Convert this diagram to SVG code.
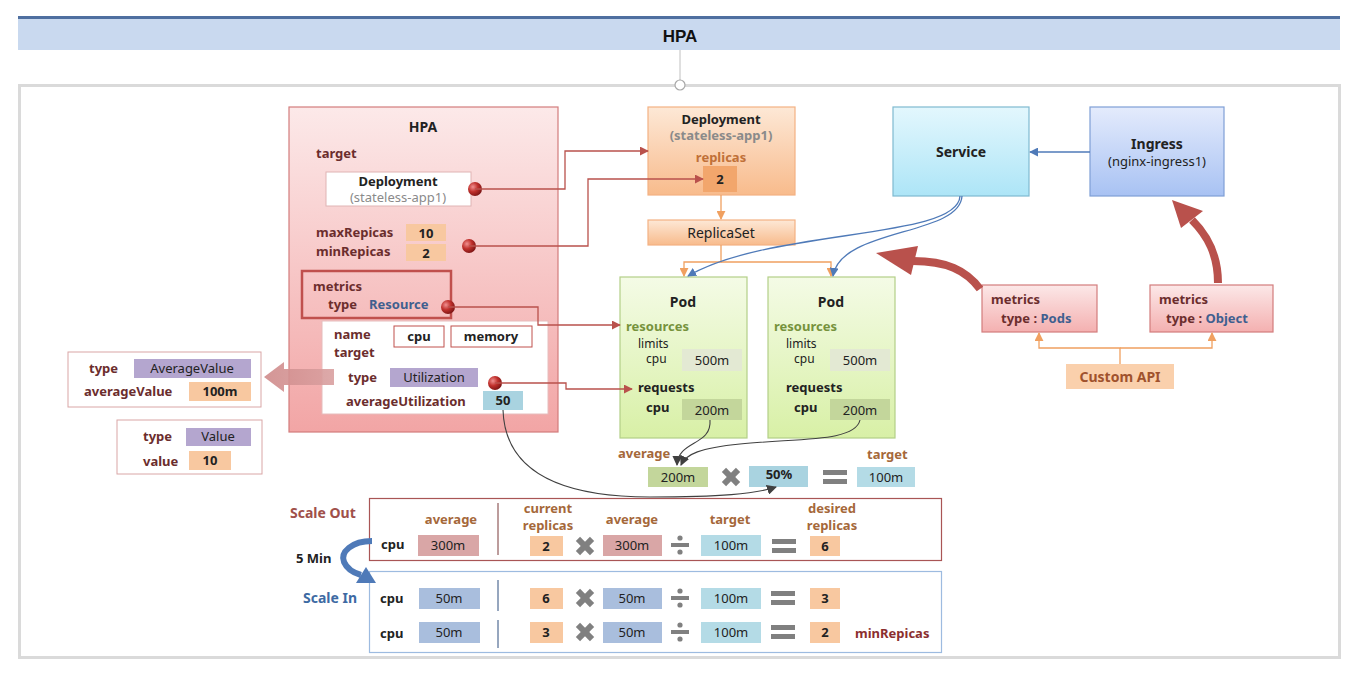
<svg xmlns="http://www.w3.org/2000/svg" width="1361" height="675" viewBox="0 0 1361 675">
<style>
text{font-family:"Noto Sans","Open Sans",sans-serif;font-size:13px;fill:#222}
.b{font-weight:bold}
.c{text-anchor:middle}
.sm{font-size:12px}
.lbl{fill:#6b2d2d;font-weight:bold}
.br{fill:#a5683a;font-weight:bold}
.blu{fill:#3f5f8f;font-weight:bold}
.gry{fill:#8a8a8a}
.cOr{fill:#f8c8a0}
.cPk{fill:#d9a6a6}
.cLb{fill:#b4dbe6}
.cSb{fill:#a9bedd}
.cPu{fill:#b4a6cf}
.cGr{fill:#c3d69b}
.red{fill:none;stroke:#b9514c;stroke-width:1.3}
.org{fill:none;stroke:#f0a060;stroke-width:1.3}
.bl{fill:none;stroke:#4f7ab8;stroke-width:1.3}
.gl{fill:none;stroke:#404040;stroke-width:1.1}
.op{fill:#808080}
</style>
<defs>
<linearGradient id="gHpa" x1="0" y1="0" x2="0" y2="1"><stop offset="0" stop-color="#fce9e9"/><stop offset="1" stop-color="#f2a5a5"/></linearGradient>
<linearGradient id="gDep" x1="0" y1="0" x2="0" y2="1"><stop offset="0" stop-color="#fde8d6"/><stop offset="1" stop-color="#f8bb8c"/></linearGradient>
<linearGradient id="gPod" x1="0" y1="0" x2="0" y2="1"><stop offset="0" stop-color="#f4fbe6"/><stop offset="1" stop-color="#d8f0a6"/></linearGradient>
<linearGradient id="gSvc" x1="0" y1="0" x2="0" y2="1"><stop offset="0" stop-color="#e3f7fd"/><stop offset="1" stop-color="#ade5f7"/></linearGradient>
<linearGradient id="gIng" x1="0" y1="0" x2="0" y2="1"><stop offset="0" stop-color="#e4ebfc"/><stop offset="1" stop-color="#a8c2f3"/></linearGradient>
<linearGradient id="gMet" x1="0" y1="0" x2="0" y2="1"><stop offset="0" stop-color="#fce8e8"/><stop offset="1" stop-color="#f4b0b0"/></linearGradient>
<linearGradient id="gArr" x1="0" y1="0" x2="1" y2="0"><stop offset="0" stop-color="#cf8a8a"/><stop offset="1" stop-color="#d9a0a0"/></linearGradient>
<radialGradient id="gBall" cx="0.35" cy="0.35" r="0.7"><stop offset="0" stop-color="#f09090"/><stop offset="0.5" stop-color="#c0302c"/><stop offset="1" stop-color="#7a1414"/></radialGradient>
<marker id="mRed" viewBox="0 0 10 10" refX="9" refY="5" markerWidth="9" markerHeight="9" markerUnits="userSpaceOnUse" orient="auto"><path d="M0,0 L10,5 L0,10 z" fill="#b9514c"/></marker>
<marker id="mOrg" viewBox="0 0 10 10" refX="9" refY="5" markerWidth="9" markerHeight="9" markerUnits="userSpaceOnUse" orient="auto"><path d="M0,0 L10,5 L0,10 z" fill="#f0a060"/></marker>
<marker id="mBlu" viewBox="0 0 10 10" refX="9" refY="5" markerWidth="9" markerHeight="9" markerUnits="userSpaceOnUse" orient="auto"><path d="M0,0 L10,5 L0,10 z" fill="#4f7ab8"/></marker>
<marker id="mGry" viewBox="0 0 10 10" refX="9" refY="5" markerWidth="10" markerHeight="10" markerUnits="userSpaceOnUse" orient="auto"><path d="M0,0 L10,5 L0,10 z" fill="#404040"/></marker>
<g id="opX" class="op"><rect x="-10" y="-3" width="20" height="6" transform="rotate(45)"/><rect x="-10" y="-3" width="20" height="6" transform="rotate(-45)"/></g>
<g id="opDiv" class="op"><rect x="-9" y="-2" width="18" height="4"/><circle cx="0" cy="-7" r="2.6"/><circle cx="0" cy="7" r="2.6"/></g>
<g id="opEq" class="op"><rect x="-12" y="-7" width="24" height="5"/><rect x="-12" y="2" width="24" height="5"/></g>
<circle id="ball" r="7" fill="url(#gBall)"/>
</defs>

<g id="header">
<rect x="18" y="17" width="1322" height="33" fill="#c9d9ef"/>
<line x1="18" y1="17.5" x2="1340" y2="17.5" stroke="#4f6fa0" stroke-width="3"/>
<text x="680" y="42" class="c b" style="font-family:'Liberation Sans',sans-serif;font-size:17px;fill:#111">HPA</text>
</g>
<g id="frame">
<line x1="680" y1="50" x2="680" y2="80" stroke="#c0c0c0" stroke-width="1"/>
<rect x="19.5" y="85.5" width="1320" height="572" fill="#fff" stroke="#dadada" stroke-width="3"/>
<circle cx="680" cy="85" r="5" fill="#fff" stroke="#a8a8a8" stroke-width="1.2"/>
</g>

<g id="hpa">
<rect x="289" y="107" width="269" height="325" fill="url(#gHpa)" stroke="#d37c7c" stroke-width="1.2"/>
<text x="423" y="132" class="c b" style="font-size:14px">HPA</text>
<text x="316" y="158" class="lbl">target</text>
<rect x="326" y="172" width="145" height="34" fill="#fff" stroke="#e0b4b4"/>
<text x="398" y="186" class="c b">Deployment</text>
<text x="398" y="202" class="c gry">(stateless-app1)</text>
<text x="316" y="237" class="lbl">maxRepicas</text>
<rect x="406" y="224" width="40" height="17" class="cOr"/>
<text x="426" y="238" class="c b">10</text>
<text x="316" y="256" class="lbl">minRepicas</text>
<rect x="406" y="244" width="40" height="17" class="cOr"/>
<text x="426" y="258" class="c b">2</text>
<rect x="302" y="271" width="149" height="47" fill="none" stroke="#c0504d" stroke-width="2.5"/>
<text x="313" y="291" class="lbl">metrics</text>
<text x="328" y="309" class="lbl">type</text>
<text x="369" y="309" class="blu">Resource</text>
<rect x="322" y="321" width="226" height="93" fill="#fff" stroke="#e6bcbc"/>
<text x="334" y="339" class="lbl">name</text>
<text x="334" y="357" class="lbl">target</text>
<rect x="394" y="326" width="50" height="21" fill="#fff" stroke="#c0504d"/>
<text x="419" y="341" class="c b">cpu</text>
<rect x="451" y="326" width="81" height="21" fill="#fff" stroke="#c0504d"/>
<text x="491" y="341" class="c b">memory</text>
<text x="348" y="382" class="lbl">type</text>
<rect x="390" y="368" width="88" height="19" class="cPu"/>
<text x="434" y="382" class="c">Utilization</text>
<text x="346" y="406" class="lbl">averageUtilization</text>
<rect x="483" y="391" width="40" height="19" fill="#a9d3e0"/>
<text x="503" y="405" class="c b">50</text>
<polygon points="334,369 284,369 284,362 264,377 284,392 284,385 334,385" fill="url(#gArr)" opacity="0.9"/>
<use href="#ball" x="475" y="189"/>
<use href="#ball" x="469" y="246"/>
<use href="#ball" x="448" y="307"/>
<use href="#ball" x="495" y="383"/>
</g>

<g id="typeAverageValue">
<rect x="68" y="352" width="193" height="55" fill="#fff" stroke="#d9a6a6"/>
<text x="89" y="373" class="lbl">type</text>
<rect x="134" y="359" width="117" height="19" class="cPu"/>
<text x="192" y="373" class="c">AverageValue</text>
<text x="84" y="396" class="lbl">averageValue</text>
<rect x="189" y="382" width="62" height="19" class="cOr"/>
<text x="220" y="396" class="c b">100m</text>
</g>
<g id="typeValue">
<rect x="117" y="420" width="145" height="54" fill="#fff" stroke="#d9a6a6"/>
<text x="143" y="441" class="lbl">type</text>
<rect x="186" y="428" width="65" height="18" class="cPu"/>
<text x="218" y="441" class="c">Value</text>
<text x="143" y="466" class="lbl">value</text>
<rect x="189" y="451" width="42" height="19" class="cOr"/>
<text x="210" y="465" class="c b">10</text>
</g>

<g id="deployment">
<rect x="648" y="107" width="147" height="88" fill="url(#gDep)" stroke="#f4b183" stroke-width="1.2"/>
<text x="721" y="124" class="c b">Deployment</text>
<text x="721" y="140" class="c b gry">(stateless-app1)</text>
<text x="721" y="162" class="c b" style="fill:#c07038">replicas</text>
<rect x="703" y="166" width="34" height="26" fill="#f2a66c"/>
<text x="720" y="184" class="c b">2</text>
</g>
<g id="replicaset">
<rect x="648" y="220" width="147" height="25" fill="url(#gDep)" stroke="#f4b183" stroke-width="1.2"/>
<text x="721" y="238" class="c" style="font-size:14px">ReplicaSet</text>
</g>

<g id="pod1">
<rect x="620" y="277" width="127" height="161" fill="url(#gPod)" stroke="#b3cf88" stroke-width="1.2"/>
<text x="683" y="307" class="c b" style="font-size:14px">Pod</text>
<text x="626" y="331" class="b" style="fill:#76923c">resources</text>
<text x="638" y="348" class="sm">limits</text>
<text x="646" y="363" class="sm">cpu</text>
<rect x="682" y="349" width="60" height="22" fill="#e3e9d3"/>
<text x="712" y="365" class="c">500m</text>
<text x="638" y="392" class="b">requests</text>
<text x="646" y="412" class="b">cpu</text>
<rect x="682" y="399" width="60" height="21" class="cGr"/>
<text x="712" y="415" class="c">200m</text>
</g>
<g id="pod2">
<rect x="768" y="277" width="127" height="161" fill="url(#gPod)" stroke="#b3cf88" stroke-width="1.2"/>
<text x="831" y="307" class="c b" style="font-size:14px">Pod</text>
<text x="774" y="331" class="b" style="fill:#76923c">resources</text>
<text x="786" y="348" class="sm">limits</text>
<text x="794" y="363" class="sm">cpu</text>
<rect x="830" y="349" width="60" height="22" fill="#e3e9d3"/>
<text x="860" y="365" class="c">500m</text>
<text x="786" y="392" class="b">requests</text>
<text x="794" y="412" class="b">cpu</text>
<rect x="830" y="399" width="60" height="21" class="cGr"/>
<text x="860" y="415" class="c">200m</text>
</g>

<g id="service">
<rect x="893" y="107" width="136" height="89" fill="url(#gSvc)" stroke="#7fbad0" stroke-width="1.2"/>
<text x="961" y="157" class="c b" style="font-size:14px">Service</text>
</g>
<g id="ingress">
<rect x="1090" y="107" width="134" height="89" fill="url(#gIng)" stroke="#7f9fd6" stroke-width="1.2"/>
<text x="1157" y="149" class="c b" style="font-size:14px">Ingress</text>
<text x="1157" y="166" class="c">(nginx-ingress1)</text>
</g>
<g id="metricsPods">
<rect x="982" y="285" width="115" height="47" fill="url(#gMet)" stroke="#d37c7c" stroke-width="1.2"/>
<text x="991" y="304" class="lbl">metrics</text>
<text x="1001" y="323" class="lbl">type : <tspan class="blu">Pods</tspan></text>
</g>
<g id="metricsObject">
<rect x="1150" y="285" width="123" height="47" fill="url(#gMet)" stroke="#d37c7c" stroke-width="1.2"/>
<text x="1159" y="304" class="lbl">metrics</text>
<text x="1166" y="323" class="lbl">type : <tspan class="blu">Object</tspan></text>
</g>
<g id="customApi">
<rect x="1066" y="364" width="108" height="25" fill="#fad0ac"/>
<text x="1120" y="382" class="c b" style="fill:#a0522d;font-size:14px">Custom API</text>
</g>

<g id="avgCalc">
<text x="618" y="458" class="br">average</text>
<rect x="648" y="467" width="60" height="20" class="cGr"/>
<text x="678" y="482" class="c">200m</text>
<use href="#opX" x="731" y="477"/>
<rect x="749" y="466" width="59" height="21" fill="#a9d3e0"/>
<text x="779" y="479" class="c b">50%</text>
<use href="#opEq" x="835" y="477"/>
<text x="867" y="459" class="br">target</text>
<rect x="857" y="467" width="58" height="20" class="cLb"/>
<text x="886" y="482" class="c">100m</text>
</g>

<g id="scaleOut">
<text x="290" y="518" class="b" style="fill:#a0504a;font-size:14px">Scale Out</text>
<rect x="369.5" y="498.5" width="572" height="62" fill="#fff" stroke="#a95555" stroke-width="1.2"/>
<text x="451" y="524" class="c br">average</text>
<text x="381" y="549" class="b">cpu</text>
<rect x="418" y="535" width="61" height="21" class="cPk"/>
<text x="448" y="550" class="c">300m</text>
<line x1="498" y1="503" x2="498" y2="555" stroke="#7a3a3a" stroke-width="1"/>
<text x="548" y="513" class="c br">current</text>
<text x="548" y="530" class="c br">replicas</text>
<rect x="530" y="536" width="33" height="20" class="cOr"/>
<text x="546" y="551" class="c b">2</text>
<use href="#opX" x="585" y="546"/>
<text x="632" y="524" class="c br">average</text>
<rect x="603" y="535" width="59" height="21" class="cPk"/>
<text x="632" y="550" class="c">300m</text>
<use href="#opDiv" x="680" y="545"/>
<text x="730" y="524" class="c br">target</text>
<rect x="701" y="535" width="60" height="21" class="cLb"/>
<text x="731" y="550" class="c">100m</text>
<use href="#opEq" x="784" y="546"/>
<text x="832" y="513" class="c br">desired</text>
<text x="832" y="530" class="c br">replicas</text>
<rect x="810" y="536" width="30" height="20" class="cOr"/>
<text x="825" y="551" class="c b">6</text>
</g>

<g id="scaleIn">
<text x="296" y="563" class="b" style="font-size:13px">5 Min</text>
<text x="303" y="603" class="b" style="fill:#3d6aa3;font-size:14px">Scale In</text>
<rect x="369.5" y="571.5" width="572" height="81" fill="#fff" stroke="#9dbbe0" stroke-width="1.2"/>
<line x1="498" y1="580" x2="498" y2="611" stroke="#2f4f7f" stroke-width="1"/>
<line x1="498" y1="620" x2="498" y2="648" stroke="#2f4f7f" stroke-width="1"/>
<text x="380" y="603" class="b">cpu</text>
<rect x="419" y="588" width="61" height="21" class="cSb"/>
<text x="449" y="603" class="c">50m</text>
<rect x="530" y="588" width="33" height="21" class="cOr"/>
<text x="546" y="603" class="c b">6</text>
<use href="#opX" x="585" y="598"/>
<rect x="603" y="588" width="59" height="21" class="cSb"/>
<text x="632" y="603" class="c">50m</text>
<use href="#opDiv" x="680" y="598"/>
<rect x="701" y="588" width="60" height="21" class="cLb"/>
<text x="731" y="603" class="c">100m</text>
<use href="#opEq" x="783" y="598"/>
<rect x="810" y="588" width="30" height="21" class="cOr"/>
<text x="825" y="603" class="c b">3</text>
<text x="380" y="638" class="b">cpu</text>
<rect x="419" y="622" width="61" height="21" class="cSb"/>
<text x="449" y="637" class="c">50m</text>
<rect x="530" y="622" width="33" height="21" class="cOr"/>
<text x="546" y="637" class="c b">3</text>
<use href="#opX" x="585" y="632"/>
<rect x="603" y="622" width="59" height="21" class="cSb"/>
<text x="632" y="637" class="c">50m</text>
<use href="#opDiv" x="680" y="632"/>
<rect x="701" y="622" width="60" height="21" class="cLb"/>
<text x="731" y="637" class="c">100m</text>
<use href="#opEq" x="783" y="632"/>
<rect x="810" y="622" width="30" height="21" class="cOr"/>
<text x="825" y="637" class="c b">2</text>
<text x="855" y="638" class="b" style="fill:#8b2e2e">minRepicas</text>
</g>

<g id="connectors">
<path class="red" d="M475,189 H565 V151 H648" marker-end="url(#mRed)"/>
<path class="red" d="M469,246 H588 V179 H703" marker-end="url(#mRed)"/>
<path class="red" d="M448,307 H538 V325 H620" marker-end="url(#mRed)"/>
<path class="red" d="M495,383 H566 V389 H632" marker-end="url(#mRed)"/>
<path class="org" d="M721,195 V219" marker-end="url(#mOrg)"/>
<path class="org" d="M721,245 V262 H684 V276" marker-end="url(#mOrg)"/>
<path class="org" d="M721,262 H831 V276" marker-end="url(#mOrg)"/>
<path class="bl" d="M1090,152 H1030" marker-end="url(#mBlu)"/>
<path class="bl" d="M960,196 C958,240 770,228 688,276" marker-end="url(#mBlu)"/>
<path class="bl" d="M962,196 C960,236 840,228 833,276" marker-end="url(#mBlu)"/>
<path class="org" d="M1120,364 V348 H1039 V333" marker-end="url(#mOrg)"/>
<path class="org" d="M1120,348 H1212 V333" marker-end="url(#mOrg)"/>
<path class="gl" d="M710,420 C712,446 678,440 677,465" marker-end="url(#mGry)"/>
<path class="gl" d="M860,420 C855,442 800,438 740,444 C700,448 686,454 681,465" marker-end="url(#mGry)"/>
<path class="gl" d="M503,410 C505,472 560,497 650,497 C720,497 755,494 776,487" marker-end="url(#mGry)"/>
<path d="M980,289 C966,270 946,261 913,261" fill="none" stroke="#b9514c" stroke-width="8"/>
<polygon points="876,253 918,246 911,275" fill="#b9514c"/>
<path d="M1218,283 C1218,255 1208,236 1192,220" fill="none" stroke="#b9514c" stroke-width="8"/>
<polygon points="1172,200 1203,211 1181,228" fill="#b9514c"/>
<path d="M372,541 C352,541 340,552 344,562 C347,569 354,573 361,575" fill="none" stroke="#4f7ab8" stroke-width="6"/>
<polygon points="376,583 356,583 366,567" fill="#4f7ab8"/>
</g>
</svg>
